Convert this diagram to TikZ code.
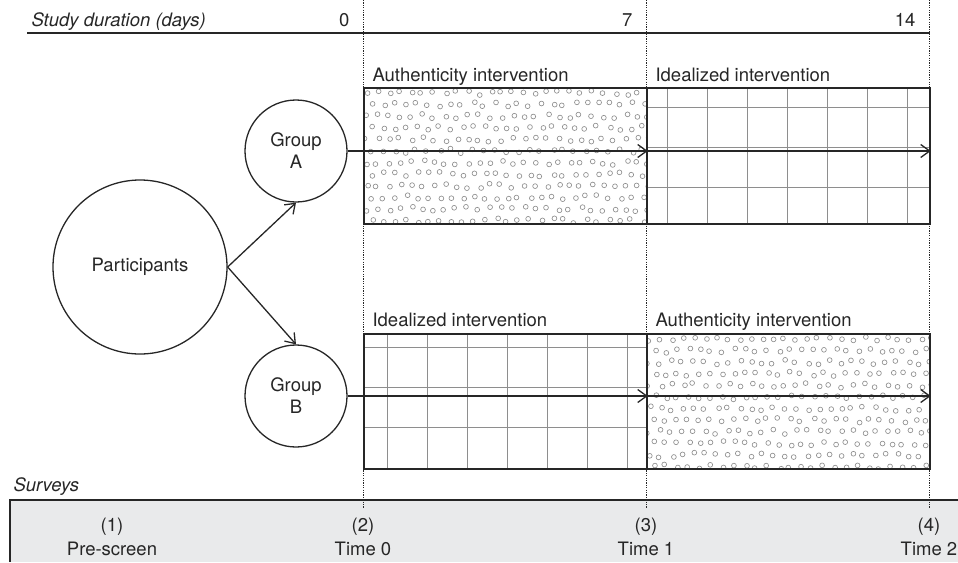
\documentclass[tikz,border=0pt]{standalone}
\usepackage{fontspec}
\setmainfont{TeX Gyre Heros}
\usetikzlibrary{arrows.meta}
\definecolor{ink}{HTML}{262626}
\definecolor{surveygray}{HTML}{E9EAEB}
\definecolor{patgray}{HTML}{8E8E8E}

\begin{document}
\begin{tikzpicture}[x=1pt,y=-1pt,
		every node/.style={font=\fontsize{18.5}{22}\selectfont, text=ink},
		caption/.style={font=\fontsize{18.5}{22}\selectfont\itshape},
		bubble/.style={draw=ink, line width=1.3pt, circle, inner sep=0pt, align=center},
		ivbox/.style={draw=ink, line width=1.8pt, minimum width=283pt, minimum height=136pt, inner sep=0pt, anchor=north west},
		flow/.style={ink, line width=1.3pt, -{Straight Barb[length=9pt,width=13pt,line width=1.3pt]}},
		timeline/.style={ink, line width=0.9pt, dash pattern=on 1.2pt off 1.2pt},
		gridline/.style={patgray, line width=1pt},
		ringdot/.style={patgray, line width=0.65pt}]
		\useasboundingbox (0,0) rectangle (958,562);
		
		% survey bar
		\fill[surveygray] (10,500) rectangle (958,562);
		\draw[ink, line width=1.3pt] (958,500) -- (10,500) -- (10,562);
		\node[caption, anchor=base west] (surveys) at (10,491) {Surveys};
		
		% time axis
		\node[caption, anchor=base west] (duration) at (28,26) {Study duration (days)};
		\draw[ink, line width=1.3pt] (27,33) -- (930,33);
		\foreach \name/\x/\day in {d0/363/0, d7/646/7, d14/929/14}{
			\coordinate (\name) at (\x,0);
			\draw[timeline] (\name) -- ++(0,508);
			\node[anchor=base east] (lab\name) at (\x-10,26) {\day};
		}
		
		% dotted fill
		\pgfmathsetseed{11}
		\foreach \bx/\by in {363/87, 646/333}{
			\begin{scope}
				\clip (\bx,\by) rectangle ++(283,136);
				\foreach \i in {0,...,25}
				\foreach \j in {0,...,11}{
					\pgfmathsetmacro{\px}{\bx+3+\i*11.3+mod(\j,2)*5.6+2.4*rand}
					\pgfmathsetmacro{\py}{\by+6+\j*11.6+2.4*rand}
					\draw[ringdot] (\px,\py) circle (2.4);
				}
			\end{scope}
		}
		% grid fill
		\foreach \bx/\by/\ox/\oy in {646/87/21/20, 363/333/24/14}{
			\foreach \k in {0,...,6}
			\draw[gridline] (\bx+\ox+40*\k,\by) -- ++(0,136);
			\foreach \k in {0,1,2}
			\draw[gridline] (\bx,\by+\oy+40*\k) -- ++(283,0);
		}
		
		\node[ivbox] (a1) at (363,87) {};
		\node[ivbox] (a2) at (646,87) {};
		\node[ivbox, minimum height=135pt] (b1) at (363,333) {};
		\node[ivbox, minimum height=135pt] (b2) at (646,333) {};
		
		\node[anchor=base west] (a1lab) at (369,81) {Authenticity intervention};
		\node[anchor=base west] (a2lab) at (652,81) {Idealized intervention};
		\node[anchor=base west] (b1lab) at (369,326) {Idealized intervention};
		\node[anchor=base west] (b2lab) at (652,326) {Authenticity intervention};
		
		% participants and groups
		\node[bubble, minimum size=174pt] (part) at (140,267) {Participants};
		\node[bubble, minimum size=102pt] (grpA) at (296,151) {Group\\A};
		\node[bubble, minimum size=102pt] (grpB) at (296,396) {Group\\B};
		
		\draw[flow] (part.east) -- (grpA.south);
		\draw[flow] (part.east) -- (grpB.north);
		\draw[flow] (grpA.east) -- (grpA.east -| a1.east);
		\draw[flow] (grpA.east -| a1.east) -- (grpA.east -| a2.east);
		\draw[flow] (grpB.east) -- (grpB.east -| b1.east);
		\draw[flow] (grpB.east -| b1.east) -- (grpB.east -| b2.east);
		
		% survey points
		\node[align=center] (s1) at (112,537) {(1)\\[2pt]Pre-screen};
		\node[align=center] (s2) at (363,537) {(2)\\[2pt]Time 0};
		\node[align=center] (s3) at (646,537) {(3)\\[2pt]Time 1};
		\node[align=center] (s4) at (929,537) {(4)\\[2pt]Time 2};
	\end{tikzpicture}
\end{document}
